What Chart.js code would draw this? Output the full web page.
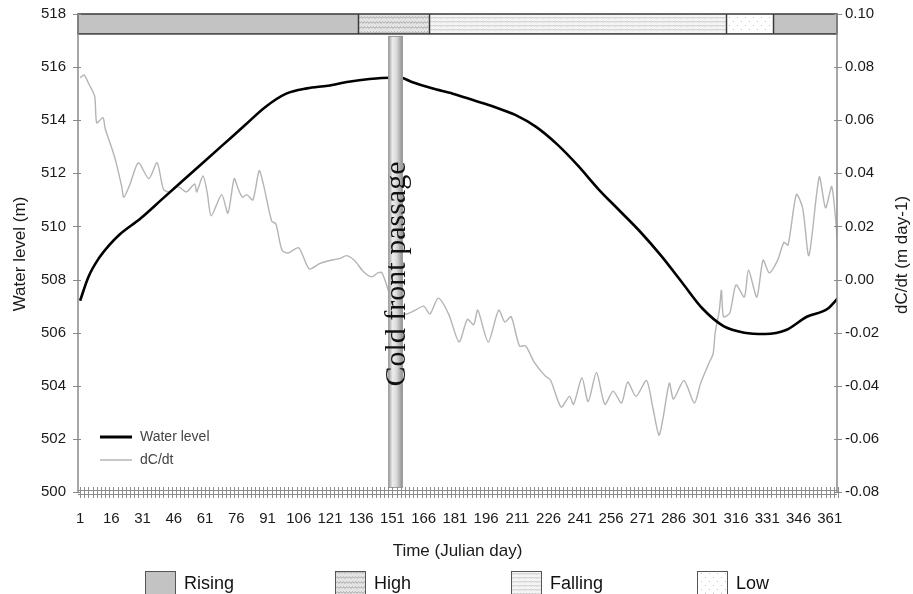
<!DOCTYPE html>
<html>
<head>
<meta charset="utf-8">
<script src="https://cdn.jsdelivr.net/npm/chart.js@4.4.1/dist/chart.umd.min.js"></script>
<style>
  html, body { margin: 0; padding: 0; background: #ffffff; }
  #wrap { width: 913px; height: 594px; }
</style>
</head>
<body>
<div id="wrap"><canvas id="chart" width="913" height="594"></canvas></div>
<script>
// Lake water level (m) through the year
const levelDays = [1, 5, 10, 15, 20, 30, 40, 50, 60, 70, 80, 90, 100, 110, 120, 130, 140, 150, 155,
  160, 170, 180, 190, 200, 210, 220, 230, 240, 250, 260, 270, 280, 290, 300, 310, 320, 330, 340, 350, 360, 365];
const levelValues = [507.2, 508.1, 508.8, 509.3, 509.7, 510.3, 511.0, 511.7, 512.4, 513.1, 513.8, 514.5, 515.0, 515.2, 515.3, 515.45, 515.55, 515.6, 515.6,
  515.45, 515.2, 515.0, 514.75, 514.5, 514.2, 513.75, 513.1, 512.3, 511.4, 510.6, 509.8, 508.9, 507.9, 506.9, 506.25, 506.0, 505.95, 506.1, 506.6, 506.9, 507.3];

// Rate of change dC/dt (m day-1)
const rateDays = [1, 3, 5, 8, 9, 12, 13, 16, 18, 21, 22, 25, 29, 34, 38, 41, 44, 48, 52, 56, 57, 60, 62, 64, 69, 72, 75, 77, 79, 81,
  84, 87, 89, 93, 95, 98, 101, 106, 111, 116, 120, 126, 129, 133, 137, 141, 144, 146, 149, 152, 157, 162, 166, 169, 173, 178,
  183, 187, 190, 192, 197, 202, 205, 208, 212, 215, 219, 224, 227, 232, 236, 238, 242, 245, 249, 253, 257, 261, 264, 268, 273,
  276, 279, 281, 284, 286, 291, 296, 299, 303, 305, 306, 308, 309, 310, 313, 316, 320, 322, 326, 329, 332, 336, 339, 341, 345,
  348, 351, 356, 359, 362, 365];
const rateValues = [0.076, 0.077, 0.074, 0.069, 0.059, 0.061, 0.057, 0.050, 0.045, 0.035, 0.031, 0.036, 0.044, 0.038, 0.044, 0.034, 0.033, 0.035, 0.033, 0.036, 0.033, 0.039, 0.033, 0.024, 0.032, 0.025, 0.038, 0.034, 0.031, 0.032,
  0.030, 0.041, 0.036, 0.022, 0.021, 0.011, 0.010, 0.012, 0.004, 0.006, 0.007, 0.008, 0.009, 0.007, 0.003, 0.001, 0.0025, 0.0025, -0.004, -0.010, -0.013, -0.0115, -0.010, -0.013, -0.007, -0.013,
  -0.0235, -0.015, -0.017, -0.0115, -0.0235, -0.0115, -0.016, -0.014, -0.025, -0.025, -0.031, -0.036, -0.038, -0.048, -0.044, -0.047, -0.037, -0.046, -0.035, -0.047, -0.042, -0.0465, -0.0386, -0.044, -0.038,
  -0.048, -0.0586, -0.052, -0.039, -0.045, -0.038, -0.0465, -0.039, -0.0315, -0.028, -0.020, -0.0115, -0.004, -0.014, -0.0126, -0.002, -0.0066, 0.0036, -0.0066, 0.0073, 0.0025, 0.0073, 0.014, 0.013, 0.032,
  0.027, 0.009, 0.0386, 0.027, 0.035, 0.012];

// Axis ticks
const dayTicks = [1, 16, 31, 46, 61, 76, 91, 106, 121, 136, 151, 166, 181, 196, 211, 226, 241, 256, 271, 286, 301, 316, 331, 346, 361];
const levelTicks = [500, 502, 504, 506, 508, 510, 512, 514, 516, 518];
const rateTicks = [-0.08, -0.06, -0.04, -0.02, 0.00, 0.02, 0.04, 0.06, 0.08, 0.10];

// Hydrological phases shown in the strip along the top (day boundaries)
const phaseNames = ['Rising', 'High', 'Falling', 'Low', 'Rising'];
const phaseEdges = [0, 134.5, 168.5, 311, 334, 364.5];
const legendPhases = ['Rising', 'High', 'Falling', 'Low'];

// Cold front passage window (days)
const coldFront = [149, 156];
const coldFrontLabel = 'Cold front passage';

const SANS = '"Liberation Sans", Arial, Helvetica, sans-serif';
const SERIF = '"Liberation Serif", "Times New Roman", Times, serif';

const canvas = document.getElementById('chart');
const ctx0 = canvas.getContext('2d');

function makePattern(w, h, bg, draw) {
  const c = document.createElement('canvas');
  c.width = w; c.height = h;
  const g = c.getContext('2d');
  g.fillStyle = bg; g.fillRect(0, 0, w, h);
  draw(g);
  return ctx0.createPattern(c, 'repeat');
}

const phaseFill = {
  Rising: '#c3c3c3',
  High: makePattern(6, 5, '#e4e4e4', g => {
    g.strokeStyle = '#acacac'; g.lineWidth = 1;
    g.beginPath(); g.moveTo(0, 3.5); g.lineTo(1.5, 1.5); g.lineTo(3, 3.5); g.lineTo(4.5, 1.5); g.lineTo(6, 3.5); g.stroke();
  }),
  Falling: makePattern(6, 4, '#f4f4f4', g => {
    g.strokeStyle = '#bdbdbd'; g.lineWidth = 0.9;
    g.beginPath(); g.moveTo(0, 2.5); g.lineTo(1.5, 1); g.lineTo(3, 2.5); g.lineTo(4.5, 1); g.lineTo(6, 2.5); g.stroke();
  }),
  Low: makePattern(8, 8, '#ffffff', g => {
    g.fillStyle = '#c4c4c4';
    g.fillRect(1, 1, 1, 1); g.fillRect(5, 5, 1, 1);
  })
};

const overlay = {
  id: 'overlay',
  afterDatasetsDraw(chart) {
    const { ctx, chartArea: a, scales } = chart;
    const x = scales.x, yl = scales.yLevel;

    // phase strip
    const stripTop = yl.getPixelForValue(518);
    const stripBot = yl.getPixelForValue(517.25);
    ctx.save();
    for (let i = 0; i < phaseNames.length; i++) {
      const x0 = x.getPixelForValue(phaseEdges[i]);
      const x1 = x.getPixelForValue(phaseEdges[i + 1]);
      ctx.fillStyle = phaseFill[phaseNames[i]];
      ctx.fillRect(x0, stripTop, x1 - x0, stripBot - stripTop);
    }
    ctx.strokeStyle = '#3a3a3a'; ctx.lineWidth = 1.5;
    ctx.strokeRect(x.getPixelForValue(phaseEdges[0]), stripTop, x.getPixelForValue(phaseEdges[phaseEdges.length - 1]) - x.getPixelForValue(phaseEdges[0]), stripBot - stripTop);
    for (let i = 1; i < phaseEdges.length - 1; i++) {
      const px = Math.round(x.getPixelForValue(phaseEdges[i])) + 0.5;
      ctx.beginPath(); ctx.moveTo(px, stripTop); ctx.lineTo(px, stripBot); ctx.stroke();
    }

    // cold front column
    const cx0 = x.getPixelForValue(coldFront[0]);
    const cx1 = x.getPixelForValue(coldFront[1]);
    const cTop = stripBot + 2, cBot = a.bottom - 4;
    const grad = ctx.createLinearGradient(cx0, 0, cx1, 0);
    grad.addColorStop(0, '#9a9a9a');
    grad.addColorStop(0.3, '#ededed');
    grad.addColorStop(0.55, '#dcdcdc');
    grad.addColorStop(1, '#8c8c8c');
    ctx.fillStyle = grad;
    ctx.fillRect(cx0, cTop, cx1 - cx0, cBot - cTop);
    ctx.strokeStyle = '#9c9c9c'; ctx.lineWidth = 1;
    ctx.strokeRect(cx0 + 0.5, cTop + 0.5, cx1 - cx0 - 1, cBot - cTop - 1);

    ctx.translate((cx0 + cx1) / 2 + 2, 274);
    ctx.rotate(-Math.PI / 2);
    ctx.fillStyle = '#111111';
    ctx.font = '30px ' + SERIF;
    ctx.textAlign = 'center'; ctx.textBaseline = 'middle';
    ctx.fillText(coldFrontLabel, 0, 0);
    ctx.restore();
  },
  afterDraw(chart) {
    const { ctx, chartArea: a, scales } = chart;
    const x = scales.x, yl = scales.yLevel, yr = scales.yRate;
    ctx.save();
    ctx.strokeStyle = '#8a8a8a';
    ctx.lineWidth = 1.5;
    // left and right axis lines
    ctx.beginPath();
    ctx.moveTo(a.left, a.top); ctx.lineTo(a.left, a.bottom);
    ctx.moveTo(a.right, a.top); ctx.lineTo(a.right, a.bottom);
    ctx.stroke();
    ctx.lineWidth = 1;
    ctx.beginPath();
    levelTicks.forEach(v => { const py = Math.round(yl.getPixelForValue(v)) + 0.5; ctx.moveTo(a.left - 5, py); ctx.lineTo(a.left + 3, py); });
    rateTicks.forEach(v => { const py = Math.round(yr.getPixelForValue(v)) + 0.5; ctx.moveTo(a.right - 3, py); ctx.lineTo(a.right + 5, py); });
    ctx.stroke();
    // bottom axis band with dense day ticks
    ctx.strokeStyle = '#8c8c8c';
    ctx.beginPath();
    ctx.moveTo(a.left, a.bottom - 1.5); ctx.lineTo(a.right, a.bottom - 1.5);
    ctx.moveTo(a.left, a.bottom + 2.5); ctx.lineTo(a.right, a.bottom + 2.5);
    for (let d = 1; d <= 365; d += 2) {
      const px = Math.round(x.getPixelForValue(d)) + 0.5;
      ctx.moveTo(px, a.bottom - 5); ctx.lineTo(px, a.bottom + 6);
    }
    ctx.stroke();

    // series key inside the plot
    ctx.lineWidth = 3; ctx.strokeStyle = '#000000';
    ctx.beginPath(); ctx.moveTo(100, 437); ctx.lineTo(132, 437); ctx.stroke();
    ctx.lineWidth = 1.5; ctx.strokeStyle = '#b4b4b4';
    ctx.beginPath(); ctx.moveTo(100, 460); ctx.lineTo(132, 460); ctx.stroke();
    ctx.fillStyle = '#444444';
    ctx.font = '14px ' + SANS;
    ctx.textAlign = 'left'; ctx.textBaseline = 'middle';
    ctx.fillText('Water level', 140, 437);
    ctx.fillText('dC/dt', 140, 460);

    // axis titles
    ctx.fillStyle = '#1a1a1a';
    ctx.font = '17px ' + SANS;
    ctx.textAlign = 'center';
    ctx.fillText('Time (Julian day)', (a.left + a.right) / 2, 551);
    ctx.save();
    ctx.translate(20, 254); ctx.rotate(-Math.PI / 2);
    ctx.fillText('Water level (m)', 0, 0);
    ctx.restore();
    ctx.save();
    ctx.translate(902, 255); ctx.rotate(-Math.PI / 2);
    ctx.fillText('dC/dt (m day-1)', 0, 0);
    ctx.restore();

    // phase key
    const keyX = [145, 335, 511, 697];
    ctx.font = '18px ' + SANS;
    legendPhases.forEach((name, i) => {
      ctx.fillStyle = phaseFill[name];
      ctx.fillRect(keyX[i], 571, 31, 28);
      ctx.strokeStyle = '#555555'; ctx.lineWidth = 1;
      ctx.strokeRect(keyX[i] + 0.5, 571.5, 30, 27);
      ctx.fillStyle = '#111111';
      ctx.textAlign = 'left';
      ctx.fillText(name, keyX[i] + 39, 584);
    });
    ctx.restore();
  }
};

const toPoints = (xs, ys) => xs.map((d, i) => ({ x: d, y: ys[i] }));
const noEdgePadding = s => { s.paddingTop = 0; s.paddingBottom = 0; s.paddingLeft = 0; s.paddingRight = 0; };
const hiddenGrid = { display: false, drawTicks: false, tickLength: 0 };

new Chart(canvas, {
  type: 'line',
  data: {
    datasets: [
      {
        label: 'Water level',
        data: toPoints(levelDays, levelValues),
        yAxisID: 'yLevel',
        borderColor: '#000000',
        borderWidth: 2.6,
        pointRadius: 0,
        cubicInterpolationMode: 'monotone',
        fill: false
      },
      {
        label: 'dC/dt',
        data: toPoints(rateDays, rateValues),
        yAxisID: 'yRate',
        borderColor: '#b4b4b4',
        borderWidth: 1.4,
        pointRadius: 0,
        tension: 0.25,
        fill: false
      }
    ]
  },
  options: {
    responsive: false,
    devicePixelRatio: 1,
    animation: false,
    layout: { padding: { top: 14, left: 0, right: 0, bottom: 0 } },
    plugins: { legend: { display: false }, tooltip: { enabled: false } },
    scales: {
      x: {
        type: 'linear',
        min: 0,
        max: 364.5,
        afterBuildTicks: s => { s.ticks = dayTicks.map(v => ({ value: v })); },
        afterFit: s => { s.height = 102; noEdgePadding(s); },
        grid: hiddenGrid,
        border: { display: false },
        ticks: {
          autoSkip: false, maxRotation: 0, padding: 18,
          color: '#1a1a1a', font: { family: SANS, size: 15 },
          callback: v => String(v)
        }
      },
      yLevel: {
        position: 'left',
        min: 500, max: 518,
        afterBuildTicks: s => { s.ticks = levelTicks.map(v => ({ value: v })); },
        afterFit: s => { s.width = 78; noEdgePadding(s); },
        grid: hiddenGrid,
        border: { display: false },
        ticks: { padding: 12, color: '#1a1a1a', font: { family: SANS, size: 15 }, callback: v => String(v) }
      },
      yRate: {
        position: 'right',
        min: -0.08, max: 0.10,
        afterBuildTicks: s => { s.ticks = rateTicks.map(v => ({ value: v })); },
        afterFit: s => { s.width = 76; noEdgePadding(s); },
        grid: hiddenGrid,
        border: { display: false },
        ticks: { padding: 8, color: '#1a1a1a', font: { family: SANS, size: 15 }, callback: v => Number(v).toFixed(2) }
      }
    }
  },
  plugins: [overlay]
});
</script>
</body>
</html>
